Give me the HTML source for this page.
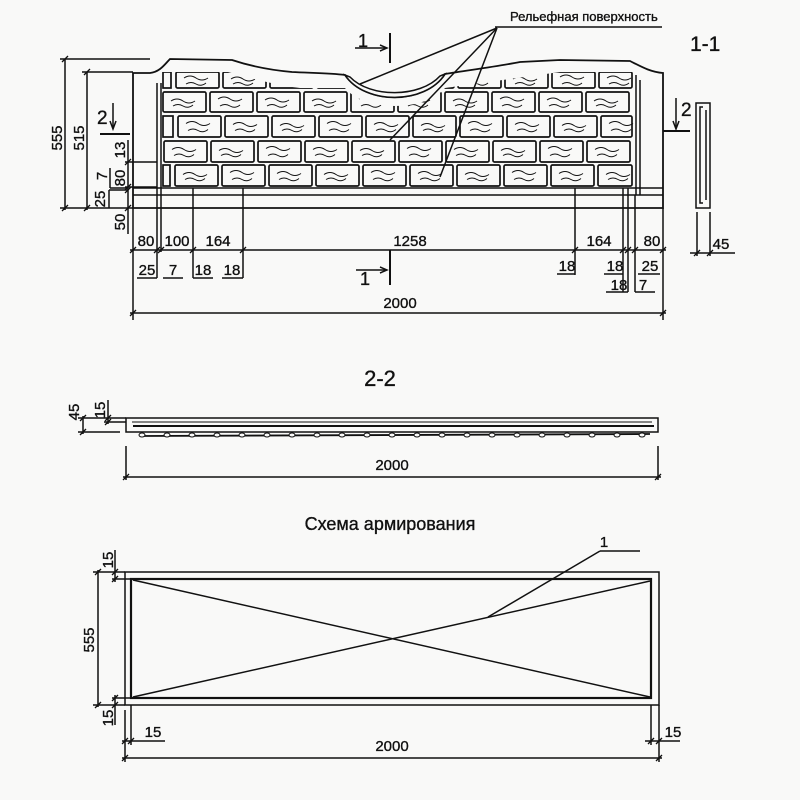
<!DOCTYPE html>
<html><head><meta charset="utf-8"><style>
html,body{margin:0;padding:0;background:#f9f9f8;}
svg{display:block}
text{font-family:"Liberation Sans Narrow","Liberation Sans",sans-serif;fill:#111;stroke:#111;stroke-width:0.35;}
</style></head><body>
<svg id="s" width="800" height="800" viewBox="0 0 800 800" xmlns="http://www.w3.org/2000/svg">
<rect width="800" height="800" fill="#f9f9f8"/>
<defs>
<clipPath id="bc"><path d="M162 72 L228 72 C250 78 280 86 300 88 L345 88 C365 112 425 112 445 88 L560 72 L634 72 L634 187 L162 187 Z"/></clipPath>
</defs>
<g id="bricks" clip-path="url(#bc)" stroke="#111" fill="none" stroke-width="1.7"></g>
<g stroke="#111" fill="none" stroke-width="1.5">
<path d="M133 208 L133 73 L150 73 C160 72 165 64 170 59 L232 60 C250 66 270 70 292 72 C310 73 330 73 345 75 C365 105 425 105 445 74 C470 70 500 66 520 62 L560 60 L630 61 C640 66 650 72 663 73 L663 208 Z" stroke-width="1.8"/>
<path d="M345 75 C365 105 425 105 445 74 L440 76 C420 98 370 98 350 77 Z" fill="#f9f9f8"/>
<path d="M157 83 L157 195 M161 83 L161 195" />
<path d="M636 75 L636 195 M640 80 L640 195"/>
<line x1="133" y1="188" x2="663" y2="188"/>
<line x1="133" y1="195" x2="663" y2="195"/>
<line x1="495" y1="27" x2="662" y2="27"/>
<line x1="497" y1="28" x2="360" y2="84"/>
<line x1="497" y1="28" x2="390" y2="140"/>
<line x1="497" y1="28" x2="440" y2="177"/>
<line x1="390" y1="33" x2="390" y2="63" stroke-width="2"/>
<line x1="355" y1="48" x2="386" y2="48"/><path d="M380 45 L387 48 L380 51"/>
<line x1="390" y1="250" x2="390" y2="285" stroke-width="2"/>
<line x1="356" y1="270" x2="386" y2="270"/><path d="M380 267 L387 270 L380 273"/>
<line x1="100" y1="134" x2="130" y2="134" stroke-width="2"/>
<line x1="113" y1="103" x2="113" y2="128"/><path d="M110 121 L113 129 L116 121"/>
<line x1="663" y1="131" x2="690" y2="131" stroke-width="2"/>
<line x1="676" y1="98" x2="676" y2="128"/><path d="M673 121 L676 129 L679 121"/>
<rect x="696" y="103" width="14" height="105"/>
<path d="M703 107 L700 107 L700 203 L703 203 M706 110 L706 200"/>
<line x1="697" y1="212" x2="697" y2="256"/><line x1="710" y1="212" x2="710" y2="256"/>
<line x1="690" y1="253" x2="735" y2="253"/>
<line x1="65" y1="59" x2="65" y2="210"/><line x1="60" y1="59" x2="150" y2="59"/>
<line x1="87" y1="72" x2="87" y2="210"/><line x1="82" y1="72" x2="133" y2="72"/>
<line x1="60" y1="208" x2="133" y2="208"/>
<line x1="128" y1="140" x2="128" y2="234"/>
<line x1="125" y1="162" x2="157" y2="162"/>
<line x1="125" y1="187" x2="157" y2="187"/>
<line x1="110" y1="168" x2="110" y2="188"/><line x1="110" y1="188" x2="128" y2="188"/>
<line x1="109" y1="190" x2="109" y2="208"/><line x1="109" y1="190" x2="128" y2="190"/>
<line x1="133" y1="208" x2="133" y2="320"/><line x1="663" y1="208" x2="663" y2="320"/>
<line x1="130" y1="250" x2="666" y2="250"/>
<line x1="157" y1="195" x2="157" y2="278"/><line x1="161" y1="195" x2="161" y2="252"/>
<line x1="193" y1="188" x2="193" y2="278"/><line x1="243" y1="188" x2="243" y2="278"/>
<line x1="575" y1="188" x2="575" y2="275"/><line x1="623" y1="188" x2="623" y2="292"/>
<line x1="628" y1="188" x2="628" y2="292"/><line x1="635" y1="195" x2="635" y2="292"/>
<line x1="137" y1="278" x2="157" y2="278"/><line x1="163" y1="278" x2="183" y2="278"/>
<line x1="193" y1="278" x2="213" y2="278"/><line x1="222" y1="278" x2="243" y2="278"/>
<line x1="557" y1="274" x2="575" y2="274"/><line x1="604" y1="274" x2="623" y2="274"/>
<line x1="606" y1="292" x2="628" y2="292"/><line x1="635" y1="292" x2="655" y2="292"/>
<line x1="638" y1="274" x2="660" y2="274"/>
<line x1="130" y1="313" x2="666" y2="313"/>
<rect x="126" y="418" width="532" height="14"/>
<line x1="132" y1="422" x2="652" y2="422" stroke-width="1"/>
<line x1="133" y1="426" x2="654" y2="426" stroke-width="2"/>
<path d="M140 436 L650 434" stroke-width="1.8"/>
<line x1="83" y1="416" x2="83" y2="434"/><line x1="78" y1="418" x2="126" y2="418"/><line x1="78" y1="432" x2="120" y2="432"/>
<line x1="108" y1="400" x2="108" y2="424"/><line x1="104" y1="422" x2="126" y2="422"/>
<line x1="126" y1="446" x2="126" y2="480"/><line x1="658" y1="446" x2="658" y2="480"/>
<line x1="123" y1="477" x2="661" y2="477"/>
<rect x="125" y="572" width="534" height="133"/>
<rect x="131" y="579" width="520" height="119" stroke-width="2.2"/>
<line x1="133" y1="580" x2="650" y2="697"/>
<line x1="133" y1="697" x2="650" y2="581"/>
<line x1="600" y1="551" x2="640" y2="551"/><line x1="600" y1="551" x2="488" y2="617"/>
<line x1="98" y1="570" x2="98" y2="707"/><line x1="93" y1="572" x2="125" y2="572"/><line x1="93" y1="705" x2="125" y2="705"/>
<line x1="115" y1="550" x2="115" y2="582"/><line x1="112" y1="579" x2="131" y2="579"/>
<line x1="115" y1="695" x2="115" y2="725"/><line x1="112" y1="698" x2="131" y2="698"/>
<line x1="125" y1="710" x2="125" y2="762"/><line x1="131" y1="705" x2="131" y2="745"/>
<line x1="122" y1="741" x2="165" y2="741"/>
<line x1="651" y1="705" x2="651" y2="745"/><line x1="659" y1="705" x2="659" y2="762"/>
<line x1="645" y1="741" x2="680" y2="741"/>
<line x1="122" y1="758" x2="662" y2="758"/>
</g>
<g stroke="#111" stroke-width="1.3" id="ticks"></g>
<g id="beads" stroke="#111" fill="#f9f9f8" stroke-width="1"></g>
<g font-size="15">
<text x="510" y="21" font-size="13">Рельефная поверхность</text>
<text x="690" y="51" font-size="21">1-1</text>
<text x="358" y="47" font-size="18">1</text>
<text x="360" y="285" font-size="18">1</text>
<text x="97" y="124" font-size="19">2</text>
<text x="681" y="116" font-size="19">2</text>
<text transform="translate(62,138) rotate(-90)" text-anchor="middle">555</text>
<text transform="translate(84,138) rotate(-90)" text-anchor="middle">515</text>
<text transform="translate(125,150) rotate(-90)" text-anchor="middle">13</text>
<text transform="translate(107,176) rotate(-90)" text-anchor="middle">7</text>
<text transform="translate(125,178) rotate(-90)" text-anchor="middle">80</text>
<text transform="translate(105,199) rotate(-90)" text-anchor="middle">25</text>
<text transform="translate(125,222) rotate(-90)" text-anchor="middle">50</text>
<text x="146" y="246" text-anchor="middle">80</text>
<text x="177" y="246" text-anchor="middle">100</text>
<text x="218" y="246" text-anchor="middle">164</text>
<text x="410" y="246" text-anchor="middle">1258</text>
<text x="599" y="246" text-anchor="middle">164</text>
<text x="652" y="246" text-anchor="middle">80</text>
<text x="147" y="275" text-anchor="middle">25</text>
<text x="173" y="275" text-anchor="middle">7</text>
<text x="203" y="275" text-anchor="middle">18</text>
<text x="232" y="275" text-anchor="middle">18</text>
<text x="567" y="271" text-anchor="middle">18</text>
<text x="615" y="271" text-anchor="middle">18</text>
<text x="619" y="290" text-anchor="middle">18</text>
<text x="650" y="271" text-anchor="middle">25</text>
<text x="643" y="290" text-anchor="middle">7</text>
<text x="721" y="249" text-anchor="middle">45</text>
<text x="400" y="308" text-anchor="middle">2000</text>
<text x="380" y="386" font-size="22" text-anchor="middle">2-2</text>
<text transform="translate(79,412) rotate(-90)" text-anchor="middle">45</text>
<text transform="translate(105,410) rotate(-90)" text-anchor="middle">15</text>
<text x="392" y="470" text-anchor="middle">2000</text>
<text x="390" y="530" font-size="18" text-anchor="middle">Схема армирования</text>
<text x="604" y="547" font-size="15" text-anchor="middle">1</text>
<text transform="translate(113,560) rotate(-90)" text-anchor="middle">15</text>
<text transform="translate(94,640) rotate(-90)" text-anchor="middle">555</text>
<text transform="translate(113,718) rotate(-90)" text-anchor="middle">15</text>
<text x="153" y="737" text-anchor="middle">15</text>
<text x="673" y="737" text-anchor="middle">15</text>
<text x="392" y="751" text-anchor="middle">2000</text>
</g>
</svg>
<script>
var NS="http://www.w3.org/2000/svg",b=document.getElementById('bricks');
function el(t,a,p){var e=document.createElementNS(NS,t);for(var k in a)e.setAttribute(k,a[k]);p.appendChild(e);return e;}
var rows=[[72,88,176],[92,112,163],[116,137,178],[141,162,164],[165,186,175]];
rows.forEach(function(r,i){
 var x=r[2]; if(x>168) el('rect',{x:163,y:r[0],width:x-168,height:r[1]-r[0]},b);
 var seed=i*7;
 while(x<634){var w=Math.min(43,632-x); if(w>3){el('rect',{x:x,y:r[0],width:w,height:r[1]-r[0],rx:1.5},b);
  if(w>20){var cy=(r[0]+r[1])/2;seed++;var d=(seed%3)-1;
   el('path',{d:'M'+(x+8)+' '+(cy-2+d)+' q6 -4 12 0 t12 0','stroke-width':'1'},b);
   el('path',{d:'M'+(x+10)+' '+(cy+4)+' q5 -3 10 0 t10 -1','stroke-width':'1'},b);}}
  x+=47;}
});
var t=document.getElementById('ticks');
function tk(x,y){el('line',{x1:x-3,y1:y+3,x2:x+3,y2:y-3},t);}
[133,157,161,193,243,575,623,628,635,663].forEach(function(x){tk(x,250)});
tk(133,313);tk(663,313);tk(697,253);tk(710,253);
[59,208].forEach(function(y){tk(65,y)});[72,208].forEach(function(y){tk(87,y)});
[162,187,190,208].forEach(function(y){tk(128,y)});
tk(83,418);tk(83,432);tk(108,418);tk(108,422);tk(126,477);tk(658,477);
tk(98,572);tk(98,705);tk(115,572);tk(115,579);tk(115,698);tk(115,705);
tk(125,741);tk(131,741);tk(651,741);tk(659,741);tk(125,758);tk(659,758);
var bd=document.getElementById('beads');
for(var x=142;x<650;x+=25){el('ellipse',{cx:x,cy:435,rx:3,ry:2},bd);}
</script>
</body></html>
